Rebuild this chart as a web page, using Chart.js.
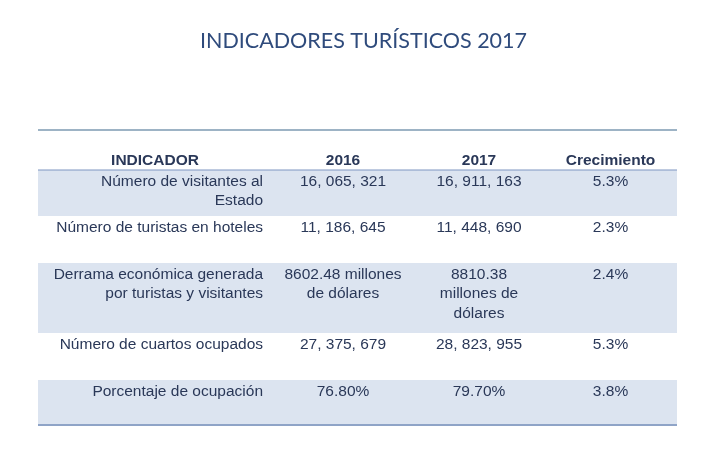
<!DOCTYPE html>
<html><head><meta charset="utf-8">
<script src="https://cdn.jsdelivr.net/npm/chart.js@4"></script>
<style>html,body{margin:0;padding:0;background:#fff;} #wrap{width:712px;height:452px;position:relative;}</style>
</head><body><div id="wrap"><canvas id="c"></canvas></div>
<script>
// ---- data ----
const title = "INDICADORES TURÍSTICOS 2017";
const headers = ["INDICADOR", "2016", "2017", "Crecimiento"];
const indicators = ["Número de visitantes al\nEstado", "Número de turistas en hoteles", "Derrama económica generada\npor turistas y visitantes", "Número de cuartos ocupados", "Porcentaje de ocupación"];
const values2016 = ["16, 065, 321", "11, 186, 645", "8602.48 millones\nde dólares", "27, 375, 679", "76.80%"];
const values2017 = ["16, 911, 163", "11, 448, 690", "8810.38\nmillones de\ndólares", "28, 823, 955", "79.70%"];
const growth = ["5.3%", "2.3%", "2.4%", "5.3%", "3.8%"];

// ---- layout (table units) ----
const colWidths = [234, 142, 130, 133];
const headerHeight = 40;
const rowHeights = [46, 47, 70, 47, 45];
const shaded = [true, false, true, false, true];
const textColor = "#2a3858";
const bodyFont = "15.5px 'Liberation Sans', Arial, sans-serif";
const headFont = "bold 15.5px 'Liberation Sans', Arial, sans-serif";
const titleFont = "21.5px Lato, 'Open Sans', sans-serif";

const totalW = colWidths.reduce((a, b) => a + b, 0);
const totalH = headerHeight + rowHeights.reduce((a, b) => a + b, 0);
const colStart = colWidths.map((w, i) => colWidths.slice(0, i).reduce((a, b) => a + b, 0));
const rowStart = rowHeights.map((h, i) => headerHeight + rowHeights.slice(0, i).reduce((a, b) => a + b, 0));
const columns = [indicators, values2016, values2017, growth];

const tablePlugin = {
  id: 'tablePlugin',
  beforeDatasetsDraw(chart) {
    const { ctx, scales: { x, y } } = chart;
    const X = v => x.getPixelForValue(v);
    const Y = v => y.getPixelForValue(v);
    ctx.save();
    // title
    ctx.fillStyle = "#2f4b7c";
    ctx.font = titleFont;
    ctx.textAlign = "center";
    ctx.textBaseline = "middle";
    ctx.fillText(title, X(325.5), Y(-88.5));
    // shaded rows
    ctx.fillStyle = "#dce4f0";
    rowHeights.forEach((h, i) => {
      if (!shaded[i]) return;
      ctx.fillRect(X(0), Y(rowStart[i]), X(totalW) - X(0), Y(rowStart[i] + h) - Y(rowStart[i]));
    });
    // lines
    ctx.strokeStyle = "#7c9ab2"; ctx.lineWidth = 1.4;
    ctx.beginPath(); ctx.moveTo(X(0), Y(0)); ctx.lineTo(X(totalW), Y(0)); ctx.stroke();
    ctx.strokeStyle = "#7f95c2"; ctx.lineWidth = 1.2;
    ctx.beginPath(); ctx.moveTo(X(0), Y(headerHeight)); ctx.lineTo(X(totalW), Y(headerHeight)); ctx.stroke();
    ctx.strokeStyle = "#8fa4c7"; ctx.lineWidth = 2.2;
    ctx.beginPath(); ctx.moveTo(X(0), Y(totalH)); ctx.lineTo(X(totalW), Y(totalH)); ctx.stroke();
    // header text
    ctx.fillStyle = textColor;
    ctx.textBaseline = "middle";
    ctx.font = headFont;
    ctx.textAlign = "center";
    headers.forEach((t, c) => {
      ctx.fillText(t, X(colStart[c] + colWidths[c] / 2), Y(31));
    });
    // body text
    ctx.font = bodyFont;
    columns.forEach((col, c) => {
      col.forEach((txt, r) => {
        const lines = txt.split("\n");
        lines.forEach((ln, k) => {
          const yy = Y(rowStart[r] + 11.5 + k * 19.7);
          if (c === 0) {
            ctx.textAlign = "right";
            ctx.fillText(ln, X(colStart[c] + colWidths[c] - 9), yy);
          } else {
            ctx.textAlign = "center";
            ctx.fillText(ln, X(colStart[c] + colWidths[c] / 2), yy);
          }
        });
      });
    });
    ctx.restore();
  }
};

new Chart(document.getElementById('c'), {
  type: 'scatter',
  data: { datasets: [{ data: [] }] },
  options: {
    responsive: true,
    maintainAspectRatio: false,
    animation: false,
    layout: { padding: { left: 38, right: 35, top: 130, bottom: 27 } },
    plugins: {
      legend: { display: false },
      tooltip: { enabled: false },
      title: { display: false }
    },
    scales: {
      x: { type: 'linear', min: 0, max: totalW, display: false },
      y: { type: 'linear', min: 0, max: totalH, reverse: true, display: false }
    }
  },
  plugins: [tablePlugin]
});
</script>
</body></html>
